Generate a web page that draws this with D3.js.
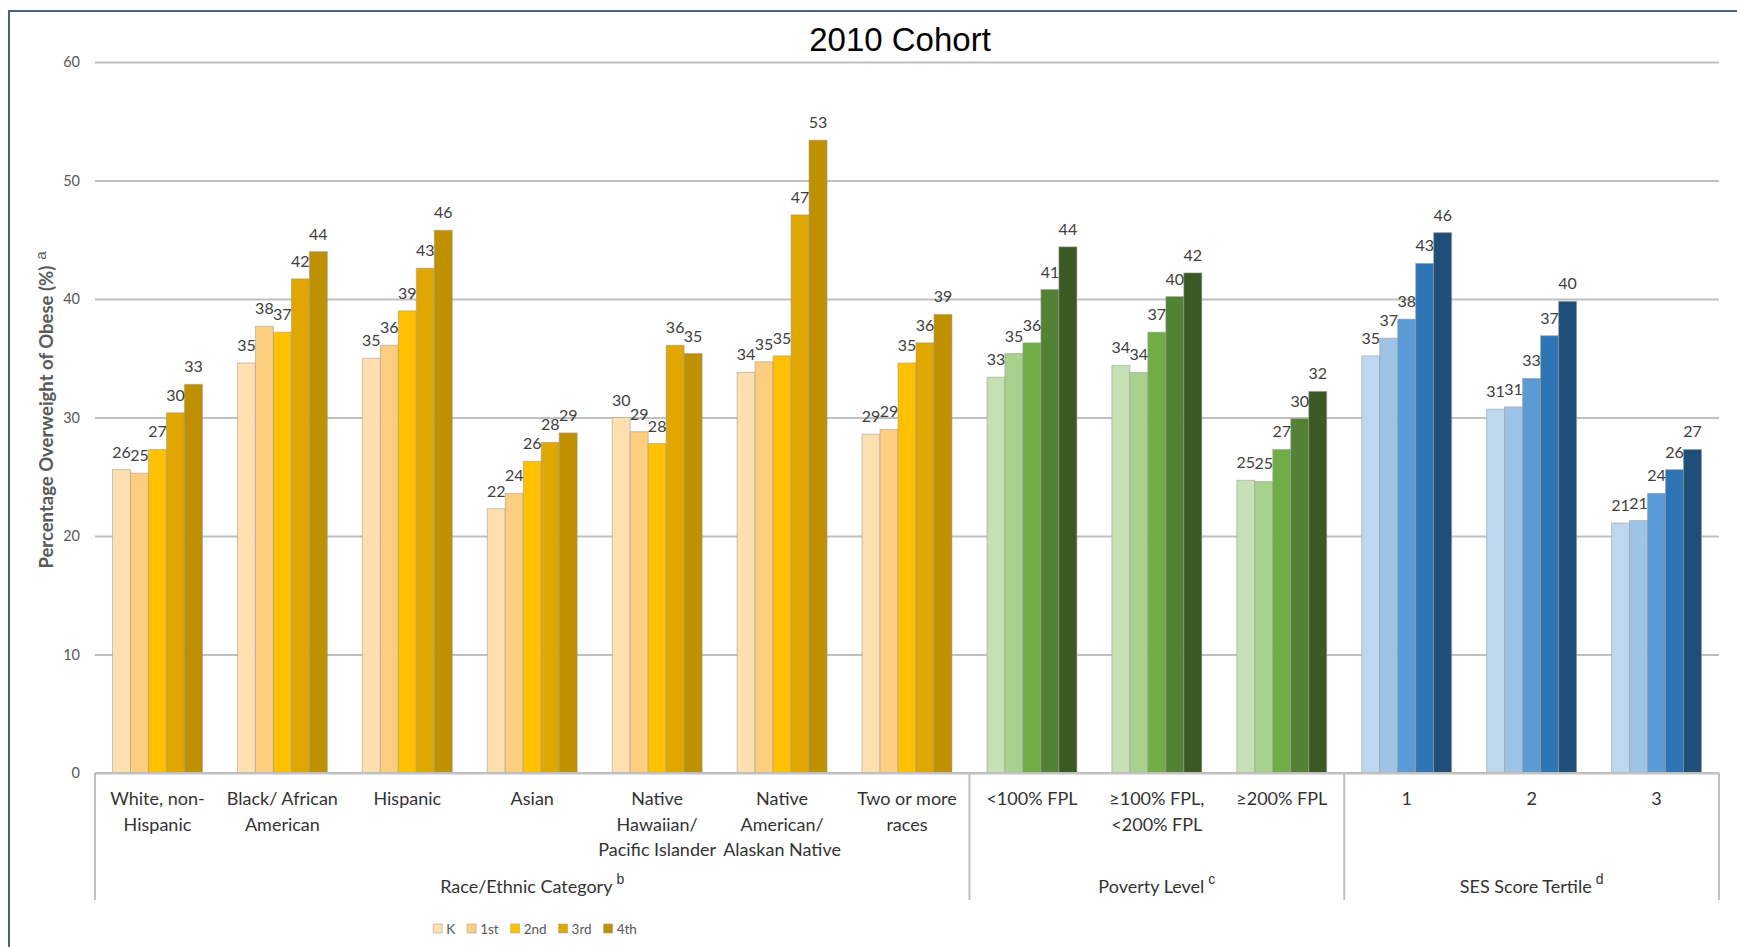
<!DOCTYPE html>
<html>
<head>
<meta charset="utf-8">
<script src="https://cdn.jsdelivr.net/npm/d3@7"></script>
<style>
  html, body { margin: 0; padding: 0; background: #fff; }
  svg { display: block; }
</style>
</head>
<body>
<script>
// chart data
var categories = [
    ["White, non-", "Hispanic"],
    ["Black/ African", "American"],
    ["Hispanic"],
    ["Asian"],
    ["Native", "Hawaiian/", "Pacific Islander"],
    ["Native", "American/", "Alaskan Native"],
    ["Two or more", "races"],
    ["<100% FPL"],
    ["\u2265100% FPL,", "<200% FPL"],
    ["\u2265200% FPL"],
    ["1"],
    ["2"],
    ["3"]
];
var groupNames = ["Race/Ethnic Category", "Poverty Level", "SES Score Tertile"];
var groupSups = ["b", "c", "d"];
var groupSizes = [7, 3, 3];
var series = ["K", "1st", "2nd", "3rd", "4th"];
var valuesK   = [25.6, 34.6, 35.0, 22.3, 30.0, 33.8, 28.6, 33.4, 34.4, 24.7, 35.2, 30.7, 21.1];
var values1st = [25.3, 37.7, 36.1, 23.6, 28.8, 34.7, 29.0, 35.4, 33.8, 24.6, 36.7, 30.9, 21.3];
var values2nd = [27.3, 37.2, 39.0, 26.3, 27.8, 35.2, 34.6, 36.3, 37.2, 27.3, 38.3, 33.3, 23.6];
var values3rd = [30.4, 41.7, 42.6, 27.9, 36.1, 47.1, 36.3, 40.8, 40.2, 29.9, 43.0, 36.9, 25.6];
var values4th = [32.8, 44.0, 45.8, 28.7, 35.4, 53.4, 38.7, 44.4, 42.2, 32.2, 45.6, 39.8, 27.3];
var yTicks = [0, 10, 20, 30, 40, 50, 60];
var raceColors = ["#FEDFB0", "#FDCD80", "#FFC000", "#DFA700", "#BF9000"];
var povertyColors = ["#C5E0B4", "#A9D18E", "#70AD47", "#548235", "#3B5A23"];
var sesColors = ["#BDD7EE", "#9DC3E6", "#5B9BD5", "#2E75B6", "#1F4E79"];

var W = 1737, H = 947,
    plotL = 95, plotR = 1719, plotT = 62, plotB = 773,
    textHex = "#404040",
    gridHex = "#c0c0c0";

var allValues = [valuesK, values1st, values2nd, values3rd, values4th];
var palettes = [raceColors, povertyColors, sesColors];

// which group each category belongs to
var catGroup = [];
groupSizes.forEach(function(n, g) {
    for (var k = 0; k < n; k++) catGroup.push(g);
});

var svg = d3.select("body").append("svg")
    .attr("width", W)
    .attr("height", H);

svg.append("rect").attr("width", W).attr("height", H).attr("fill", "#fff");

// outer frame of the figure
svg.append("path")
    .attr("d", "M9," + H + "V11H" + W)
    .attr("fill", "none")
    .attr("stroke", "#4d5f7e")
    .attr("stroke-width", 2);

var x = d3.scaleBand()
    .domain(d3.range(categories.length))
    .range([plotL, plotR])
    .paddingInner(0.28)
    .paddingOuter(0.14);

var xs = d3.scaleBand()
    .domain(series)
    .range([0, x.bandwidth()]);

var y = d3.scaleLinear()
    .domain([0, 60])
    .range([plotB, plotT]);

// title
svg.append("text")
    .attr("x", 900)
    .attr("y", 51)
    .attr("text-anchor", "middle")
    .style("font-family", "Liberation Sans, Arial, sans-serif")
    .style("font-size", "33px")
    .attr("fill", "#000")
    .text("2010 Cohort");

// gridlines + y ticks
var yAxis = svg.append("g")
    .attr("transform", "translate(" + plotL + ",0)")
    .call(d3.axisLeft(y).tickValues(yTicks).tickSize(-(plotR - plotL)).tickPadding(15));
yAxis.select(".domain").remove();
yAxis.selectAll(".tick line")
    .attr("stroke", gridHex)
    .attr("stroke-width", 2);
yAxis.selectAll(".tick text")
    .style("font-family", "Lato, sans-serif")
    .style("font-size", "14.5px")
    .attr("fill", "#595959");

// y title
var yTitle = svg.append("text")
    .attr("transform", "translate(53,410) rotate(-90)")
    .attr("text-anchor", "middle")
    .style("font-family", "Lato, sans-serif")
    .style("font-size", "18.5px")
    .style("font-weight", "bold")
    .attr("fill", "#595959");
yTitle.append("tspan").text("Percentage Overweight of Obese (%)");
yTitle.append("tspan")
    .attr("dx", 6)
    .attr("dy", -7)
    .style("font-family", "Liberation Sans, Arial, sans-serif")
    .style("font-weight", "normal")
    .style("font-size", "15px")
    .text("a");

// bars
var cells = [];
categories.forEach(function(c, i) {
    series.forEach(function(s, j) {
        cells.push({ cat: i, ser: s, j: j, v: allValues[j][i] });
    });
});

svg.append("g").selectAll("rect")
    .data(cells)
    .join("rect")
    .attr("x", function(d) { return x(d.cat) + xs(d.ser); })
    .attr("y", function(d) { return y(d.v); })
    .attr("width", xs.bandwidth())
    .attr("height", function(d) { return y(0) - y(d.v); })
    .attr("fill", function(d) { return palettes[catGroup[d.cat]][d.j]; })
    .attr("stroke", "#9a9a9a")
    .attr("stroke-opacity", 0.55)
    .attr("stroke-width", 1);

// value labels
svg.append("g").selectAll("text")
    .data(cells)
    .join("text")
    .attr("x", function(d) { return x(d.cat) + xs(d.ser) + xs.bandwidth() / 2; })
    .attr("y", function(d) { return y(d.v) - 12; })
    .attr("text-anchor", "middle")
    .style("font-family", "Lato, sans-serif")
    .style("font-size", "16px")
    .attr("fill", textHex)
    .text(function(d) { return Math.round(d.v); });

// x axis line and group separators
svg.append("line")
    .attr("x1", plotL).attr("x2", plotR)
    .attr("y1", plotB).attr("y2", plotB)
    .attr("stroke", gridHex).attr("stroke-width", 2);

var bounds = [0];
groupSizes.forEach(function(n, g) { bounds.push(bounds[g] + n); });
var step = x.step();

svg.append("g").selectAll("line")
    .data(bounds)
    .join("line")
    .attr("x1", function(b) { return plotL + b * step; })
    .attr("x2", function(b) { return plotL + b * step; })
    .attr("y1", plotB)
    .attr("y2", 900)
    .attr("stroke", gridHex)
    .attr("stroke-width", 2);

// category labels
svg.append("g").selectAll("text")
    .data(categories)
    .join("text")
    .attr("x", function(d, i) { return x(i) + x.bandwidth() / 2; })
    .attr("y", 805)
    .attr("text-anchor", "middle")
    .style("font-family", "Lato, sans-serif")
    .style("font-size", "18px")
    .attr("fill", "#333")
    .each(function(d, i) {
        var t = d3.select(this), cx = x(i) + x.bandwidth() / 2;
        d.forEach(function(line, k) {
            t.append("tspan")
                .attr("x", cx)
                .attr("dy", k === 0 ? 0 : 25.5)
                .text(line);
        });
    });

// group labels
groupNames.forEach(function(name, g) {
    var cx = plotL + (bounds[g] + bounds[g + 1]) / 2 * step;
    var t = svg.append("text")
        .attr("x", cx)
        .attr("y", 893)
        .attr("text-anchor", "middle")
        .style("font-family", "Lato, sans-serif")
        .style("font-size", "18px")
        .attr("fill", "#333");
    t.append("tspan").text(name);
    t.append("tspan")
        .attr("dx", 4)
        .attr("dy", -9)
        .style("font-family", "Liberation Sans, Arial, sans-serif")
        .style("font-size", "14px")
        .text(groupSups[g]);
});

// legend
var legend = svg.append("g");
var lx = 0;
series.forEach(function(s, j) {
    var it = legend.append("g").attr("transform", "translate(" + lx + ",0)");
    it.append("rect")
        .attr("x", 0).attr("y", -5)
        .attr("width", 9).attr("height", 9)
        .attr("fill", raceColors[j])
        .attr("stroke", "#9a9a9a")
        .attr("stroke-opacity", 0.5);
    var tx = it.append("text")
        .attr("x", 13)
        .attr("y", 5)
        .style("font-family", "Lato, sans-serif")
        .style("font-size", "13.5px")
        .attr("fill", "#595959")
        .text(s);
    lx += 13 + tx.node().getComputedTextLength() + 12;
});
legend.attr("transform", "translate(" + (535 - (lx - 12) / 2) + ",929)");
</script>
</body>
</html>
